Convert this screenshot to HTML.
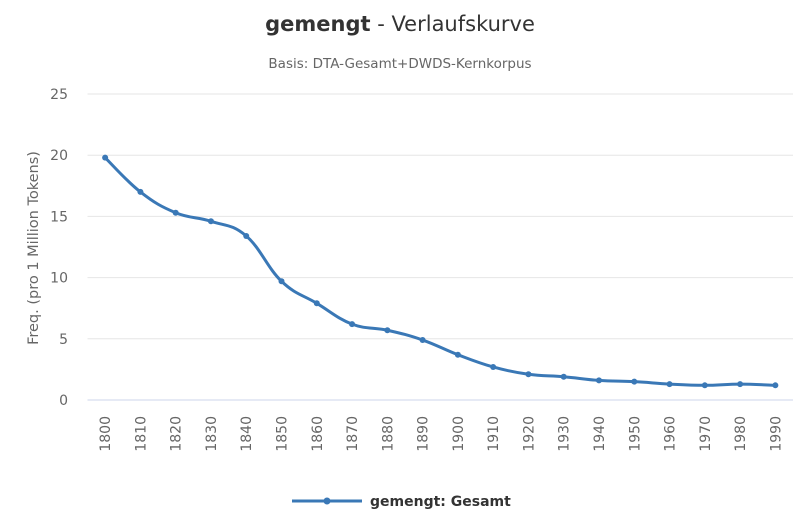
<!DOCTYPE html>
<html><head><meta charset="utf-8"><style>
body{margin:0;background:#fff;font-family:"Liberation Sans","DejaVu Sans",sans-serif;}
svg text{font-family:"DejaVu Sans","Liberation Sans",sans-serif;}
</style></head><body>
<svg id="c" width="800" height="524">
<text x="400" y="31" text-anchor="middle" font-size="21" fill="#333"><tspan font-weight="bold">gemengt</tspan> - Verlaufskurve</text>
<text x="400" y="68" text-anchor="middle" font-size="13.5" fill="#666">Basis: DTA-Gesamt+DWDS-Kernkorpus</text>
<text transform="translate(38,248) rotate(-90)" text-anchor="middle" font-size="14.5" fill="#666">Freq. (pro 1 Million Tokens)</text>
<g id="grid"></g><g id="xl"></g><g id="series"></g>
<g>
<line x1="292" y1="501" x2="362" y2="501" stroke="#3a78b6" stroke-width="3"/>
<circle cx="327" cy="501" r="3.5" fill="#3a78b6"/>
<text x="370" y="506" font-size="14" font-weight="bold" fill="#333">gemengt: Gesamt</text>
</g>
</svg>
<script>
const categories=["1800","1810","1820","1830","1840","1850","1860","1870","1880","1890","1900","1910","1920","1930","1940","1950","1960","1970","1980","1990"];
const values=[19.8,17.0,15.3,14.6,13.4,9.7,7.9,6.2,5.7,4.9,3.7,2.7,2.1,1.9,1.6,1.5,1.3,1.2,1.3,1.2];
const yTicks=[0,5,10,15,20,25];
const ns="http://www.w3.org/2000/svg";
const L=87.5,R=793,T=94,B=400,yMax=25;
const bw=(R-L)/categories.length;
const X=i=>L+bw*(i+0.5);
const Y=v=>B-(v/yMax)*(B-T);
function mk(t,a,p){const e=document.createElementNS(ns,t);for(const k in a)e.setAttribute(k,a[k]);p.appendChild(e);return e;}
const g=document.getElementById('grid');
yTicks.forEach(v=>{
 const l=mk('line',{x1:L,x2:R,y1:Y(v),y2:Y(v),stroke:v===0?'#ccd6eb':'#e6e6e6','stroke-width':1},g);
 
 
 const t=mk('text',{x:68,y:Y(v)+5,'text-anchor':'end','font-size':14,fill:'#666'},g);
 t.textContent=v;
 
 
});
const xl=document.getElementById('xl');
categories.forEach((c,i)=>{
 const t=mk('text',{transform:`translate(${X(i)+5},416) rotate(-90)`,'text-anchor':'end','font-size':14,fill:'#666'},xl);
 t.textContent=c;
 
 
});
const s=document.getElementById('series');
const pts=values.map((v,i)=>[X(i),Y(v)]);
let d=`M${pts[0][0]},${pts[0][1]}`;
for(let i=0;i<pts.length-1;i++){
 const p0=pts[Math.max(0,i-1)],p1=pts[i],p2=pts[i+1],p3=pts[Math.min(pts.length-1,i+2)];
 const k=1/5;
 const c1=[p1[0]+(p2[0]-p0[0])*k,p1[1]+(p2[1]-p0[1])*k];
 const c2=[p2[0]-(p3[0]-p1[0])*k,p2[1]-(p3[1]-p1[1])*k];
 d+=` C${c1[0]},${c1[1]} ${c2[0]},${c2[1]} ${p2[0]},${p2[1]}`;
}
const path=mk('path',{d:d,fill:'none',stroke:'#3a78b6','stroke-width':3},s);


pts.forEach((p,i)=>{
 const c=mk('circle',{cx:p[0],cy:p[1],r:3,fill:'#3a78b6'},s);
 
 
});
</script>
</body></html>
